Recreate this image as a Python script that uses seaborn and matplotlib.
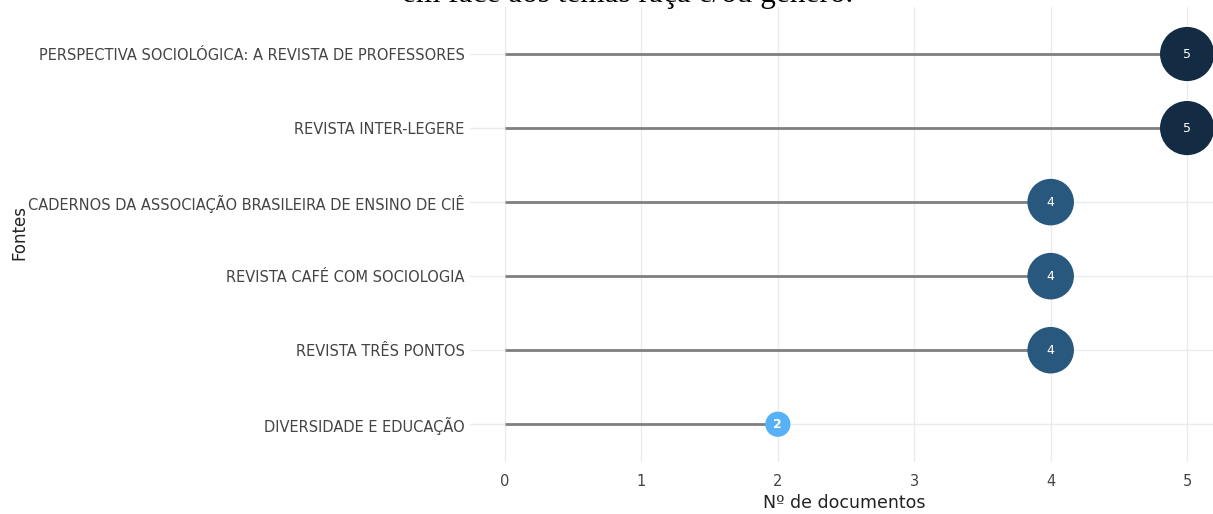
import matplotlib.pyplot as plt
import numpy as np
import pandas as pd
import seaborn as sns
from matplotlib.colors import LinearSegmentedColormap

# Data
fontes = [
    "PERSPECTIVA SOCIOLÓGICA: A REVISTA DE PROFESSORES",
    "REVISTA INTER-LEGERE",
    "CADERNOS DA ASSOCIAÇÃO BRASILEIRA DE ENSINO DE CIÊ",
    "REVISTA CAFÉ COM SOCIOLOGIA",
    "REVISTA TRÊS PONTOS",
    "DIVERSIDADE E EDUCAÇÃO",
]
n_documentos = [5, 5, 4, 4, 4, 2]
x_ticks = [0, 1, 2, 3, 4, 5]

df = pd.DataFrame({"Fontes": fontes, "n": n_documentos})
df["pos"] = np.arange(len(df))

sns.set_theme(style="white")
plt.rcParams["font.family"] = ["DejaVu Sans"]

fig = plt.figure(figsize=(12.13, 5.14), dpi=100)
ax = fig.add_axes([470 / 1213, 52 / 514, 743 / 1213, 455 / 514])

# ggplot-like continuous gradient, high values dark
cmap = LinearSegmentedColormap.from_list("gg", ["#56B1F7", "#132B43"])

# gridlines
for xt in x_ticks:
    ax.axvline(xt, color="#ebebeb", lw=1, zorder=0)
for p in df["pos"]:
    ax.axhline(p, color="#ebebeb", lw=1, zorder=0)

# stems
ax.hlines(df["pos"], 0, df["n"], color="#7f7f7f", lw=2, zorder=1)

sns.scatterplot(
    data=df, x="n", y="pos",
    hue="n", palette=cmap, hue_norm=(2, 5),
    size="n", sizes=(330, 1520), size_norm=(2, 5),
    linewidth=0, legend=False, ax=ax, zorder=3, clip_on=False,
)

for _, r in df.iterrows():
    ax.text(r["n"], r["pos"], str(r["n"]), color="white", fontsize=9,
            ha="center", va="center", zorder=4,
            fontweight="bold" if r["n"] == 2 else "normal")

ax.set_xlim(-0.257, 5.19)
ax.set_ylim(5.51, -0.635)
ax.set_xticks(x_ticks)
ax.set_yticks(df["pos"])
ax.set_yticklabels(df["Fontes"])
ax.tick_params(axis="both", length=0, labelsize=10.5, labelcolor="#444444")
ax.tick_params(axis="x", pad=9)
ax.tick_params(axis="y", pad=4)
for s in ax.spines.values():
    s.set_visible(False)

ax.set_xlabel("Nº de documentos", fontsize=12.5, color="#222222")
ax.set_ylabel("Fontes", fontsize=12, color="#222222")
ax.xaxis.set_label_coords((844 - 470) / 743, -(494 - 462) / 455)
ax.yaxis.set_label_coords((28 - 470) / 743, 1 - (232 - 7) / 455)

# title, partially cut off at the top of the image
fig.text(628 / 1213, 1 - 2 / 514, "em face aos temas raça e/ou gênero.",
         family=["Liberation Serif", "DejaVu Serif"], fontsize=22.5,
         ha="center", va="baseline", color="black")

fig.savefig("out.png", dpi=100)
